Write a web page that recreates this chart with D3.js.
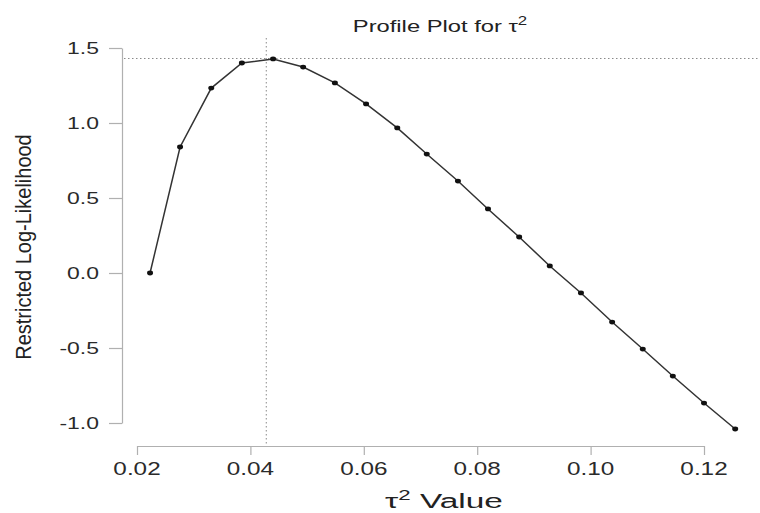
<!DOCTYPE html>
<html><head><meta charset="utf-8">
<script src="https://cdn.jsdelivr.net/npm/d3@7"></script>
<style>html,body{margin:0;padding:0;background:#fff;}svg{display:block;font-family:"Liberation Sans",Arial,Helvetica,sans-serif;}</style>
</head><body>
<svg id="c" width="760" height="513"></svg>
<script>
// ---- data ----
const tau2 = [0.0223, 0.0276, 0.0331, 0.0385, 0.0440, 0.0493, 0.0549, 0.0604, 0.0659, 0.0711,
              0.0766, 0.0819, 0.0874, 0.0928, 0.0983, 0.1038, 0.1092, 0.1145, 0.1200, 0.1255];
const logLik = [0.00, 0.84, 1.233, 1.40, 1.427, 1.373, 1.267, 1.127, 0.967, 0.793,
                0.613, 0.427, 0.24, 0.047, -0.133, -0.327, -0.507, -0.687, -0.867, -1.04];
const tauHat = 0.0428;
const llMax = 1.43;
const xTicks = [0.02, 0.04, 0.06, 0.08, 0.10, 0.12];
const yTicks = [-1.0, -0.5, 0.0, 0.5, 1.0, 1.5];
const xTickLabels = ["0.02", "0.04", "0.06", "0.08", "0.10", "0.12"];
const yTickLabels = ["-1.0", "-0.5", "0.0", "0.5", "1.0", "1.5"];
const titleText = "Profile Plot for \u03C4";
const xLabelText = "\u03C4";
const yLabelText = "Restricted Log-Likelihood";

const svg = d3.select("#c");
const x = d3.scaleLinear().domain([0.02, 0.12]).range([137, 704]);
const y = d3.scaleLinear().domain([-1, 1.5]).range([423, 48]);
const plotTop = 38, plotBottom = 446, plotLeft = 124, plotRight = 758;
const sx = 1.35;

// reference lines
svg.append("line").attr("x1", plotLeft).attr("x2", plotRight)
  .attr("y1", y(llMax)).attr("y2", y(llMax))
  .attr("stroke", "#8a8a8a").attr("stroke-width", 1).attr("stroke-dasharray", "1.5,2.5");
svg.append("line").attr("x1", x(tauHat)).attr("x2", x(tauHat))
  .attr("y1", plotTop).attr("y2", plotBottom)
  .attr("stroke", "#8a8a8a").attr("stroke-width", 1).attr("stroke-dasharray", "1.5,2.5");

// axes
const xa = svg.append("g").attr("transform", `translate(0,${plotBottom})`)
  .call(d3.axisBottom(x).tickValues(xTicks).tickSize(9).tickSizeOuter(0).tickFormat(""));
const ya = svg.append("g").attr("transform", "translate(122,0)")
  .call(d3.axisLeft(y).tickValues(yTicks).tickSize(13).tickSizeOuter(0).tickFormat(""));
[xa, ya].forEach(g => {
  g.selectAll("path,line").attr("stroke", "#b0b0b0").attr("stroke-width", 1.2);
});

// tick labels
svg.append("g").selectAll("text").data(xTicks).join("text")
  .attr("transform", d => `translate(${x(d)},475) scale(${sx},1)`)
  .attr("text-anchor", "middle").attr("font-size", 18).attr("fill", "#2a2a2a")
  .text((d, i) => xTickLabels[i]);
svg.append("g").selectAll("text").data(yTicks).join("text")
  .attr("transform", d => `translate(99,${y(d) + 6}) scale(${sx},1)`)
  .attr("text-anchor", "end").attr("font-size", 17).attr("fill", "#2a2a2a")
  .text((d, i) => yTickLabels[i]);

// line + points
svg.append("path").datum(d3.zip(tau2, logLik))
  .attr("d", d3.line().x(d => x(d[0])).y(d => y(d[1])))
  .attr("fill", "none").attr("stroke", "#333").attr("stroke-width", 1.5);
svg.append("g").selectAll("ellipse").data(d3.zip(tau2, logLik)).join("ellipse")
  .attr("cx", d => x(d[0])).attr("cy", d => y(d[1]))
  .attr("rx", 3).attr("ry", 2.4).attr("fill", "#111");

function fitText(sel, cx, cy, target) {
  const w = sel.node().getBBox().width;
  sel.attr("transform", `translate(${cx},${cy}) scale(${target / w},1)`);
}

// title
const t = svg.append("text").attr("text-anchor", "middle").attr("font-size", 17).attr("fill", "#222");
t.append("tspan").text(titleText);
t.append("tspan").attr("dy", -7).attr("font-size", 12).text("2");
fitText(t, 440, 32, 175);

// x label
const xl = svg.append("text").attr("text-anchor", "middle").attr("font-size", 21).attr("fill", "#222");
xl.append("tspan").text(xLabelText);
xl.append("tspan").attr("dy", -8).attr("font-size", 14).text("2");
xl.append("tspan").attr("dy", 8).text(" Value");
fitText(xl, 444, 508, 118);

// y label
svg.append("text").attr("text-anchor", "middle").attr("font-size", 20).attr("fill", "#222")
  .attr("transform", "translate(31,247) rotate(-90) scale(1,1.08)")
  .text(yLabelText);
</script>
</body></html>
